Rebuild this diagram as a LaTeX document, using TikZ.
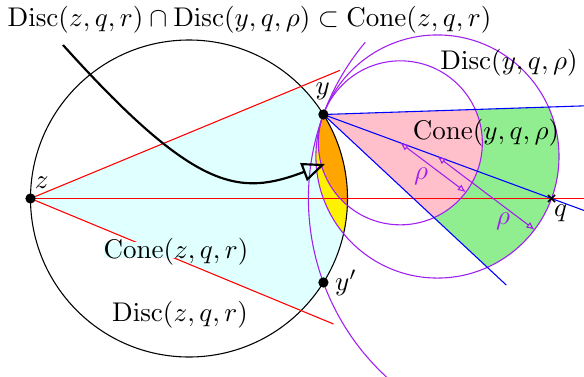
\documentclass[tikz,border=0pt]{standalone}
\usetikzlibrary{arrows.meta,calc}
\definecolor{lcyan}{RGB}{224,255,255}
\definecolor{lgreen}{RGB}{144,238,144}
\definecolor{lpink}{RGB}{255,192,203}
\definecolor{lorange}{RGB}{255,165,0}
\definecolor{vpurple}{RGB}{160,32,240}
\begin{document}
\begin{tikzpicture}[x=0.37pt,y=0.37pt,
  dot/.style={circle, fill=black, inner sep=0pt, minimum size=3.8pt},
  lbl/.style={inner sep=0pt},
  rhoarrow/.style={vpurple, {Latex[open,length=3pt,width=2.6pt]}-{Latex[open,length=3pt,width=2.6pt]}},
  rholbl/.style={text=vpurple, inner sep=0pt},
  bigarrow/.style={thick, -{Triangle[open,length=8.5pt,width=7pt]}}
]
\useasboundingbox (0,0) rectangle (584,376);
\clip (0,0) rectangle (584,376);
% key points
\coordinate (z) at (30.5,177.5);
\coordinate (cz) at (189,177.5);
\coordinate (q) at (551.5,177.5);
\coordinate (y) at ($(cz)+(32:158.5)$);
\coordinate (yp) at ($(cz)+(-32:158.5)$);
\coordinate (m) at ($(y)!0.5!(q)$);
\coordinate (c) at ($(y)!0.3373!(q)$);
% cone(z) sector fill
\fill[lcyan] (z) -- ($(cz)+(45:158.5)$) arc[start angle=45,end angle=-45,radius=158.5] -- cycle;
% lenses inside Disc(z,q,r)
\begin{scope}
  \clip (cz) circle[radius=158.5];
  \fill[yellow] (m) circle[radius=121.55];
  \fill[lorange] (c) circle[radius=82];
\end{scope}
% cone(y) fills
\begin{scope}
  \clip (y) -- ($(y)+(1.9:400)$) -- ($(y)+(-43:400)$) -- cycle;
  \fill[lgreen] (m) circle[radius=121.55];
  \fill[lpink] (c) circle[radius=82];
\end{scope}
% Disc(z,q,r)
\draw (cz) circle[radius=158.5];
% red cone lines
\coordinate (ru) at ($(z)+(22.5:335)$);
\coordinate (rl) at ($(z)+(-22.5:328)$);
\coordinate (rh) at (584,177.5);
\draw[red] (z) -- (ru);
\draw[red] (z) -- (rl);
\draw[red] (z) -- (rh);
% purple circles
\draw[vpurple] (m) circle[radius=121.55];
\draw[vpurple] (c) circle[radius=82];
\draw[vpurple] ($(q)+(140:243.1)$) arc[start angle=140,end angle=229,radius=243.1];
% blue cone lines
\coordinate (bu) at ($(y)+(1.9:261)$);
\coordinate (bm) at ($(y)!1.142!(q)$);
\coordinate (bl) at ($(y)+(-43:250)$);
\draw[blue] (y) -- (bu);
\draw[blue] (y) -- (bm);
\draw[blue] (y) -- (bl);
% rho arrows
\coordinate (ce) at ($(c)+(-37:82)$);
\coordinate (me) at ($(m)+(-37:121.55)$);
\draw[rhoarrow] (c) -- (ce);
\draw[rhoarrow] (m) -- (me);
\node[rholbl] (rho1) at (421,200) {$\rho$};
\node[rholbl] (rho2) at (503,155) {$\rho$};
% q cross
\draw[line width=0.6pt] ($(q)+(-3.5,-3.5)$) -- ($(q)+(3.5,3.5)$);
\draw[line width=0.6pt] ($(q)+(-3.5,3.5)$) -- ($(q)+(3.5,-3.5)$);
% curved arrow
\coordinate (as) at (63,331);
\coordinate (ae) at (325,212);
\draw[bigarrow] (as) .. controls (196.8,182.4) and (240,180) .. (ae);
% dots
\node[dot] (zd) at (z) {};
\node[dot] (yd) at (y) {};
\node[dot] (ypd) at (yp) {};
% labels
\node[lbl] (zl) at (41.7,193.3) {$z$};
\node[lbl] (yl) at (322.7,284.3) {$y$};
\node[lbl] (ypl) at (346,93) {$y'$};
\node[lbl] (ql) at (560.7,162.7) {$q$};
\node[lbl, fill=lcyan, text height=6pt, text depth=0pt, anchor=base] (conez) at (176,118) {$\mathrm{Cone}(z,q,r)$};
\node[lbl] (discz) at (180,61) {$\mathrm{Disc}(z,q,r)$};
\node[lbl] (discy) at (509,313) {$\mathrm{Disc}(y,q,\rho)$};
\node[lbl] (coney) at (486,243) {$\mathrm{Cone}(y,q,\rho)$};
\node[lbl] (title) at (249.5,356) {$\mathrm{Disc}(z,q,r)\cap\mathrm{Disc}(y,q,\rho)\subset\mathrm{Cone}(z,q,r)$};
\end{tikzpicture}
\end{document}
